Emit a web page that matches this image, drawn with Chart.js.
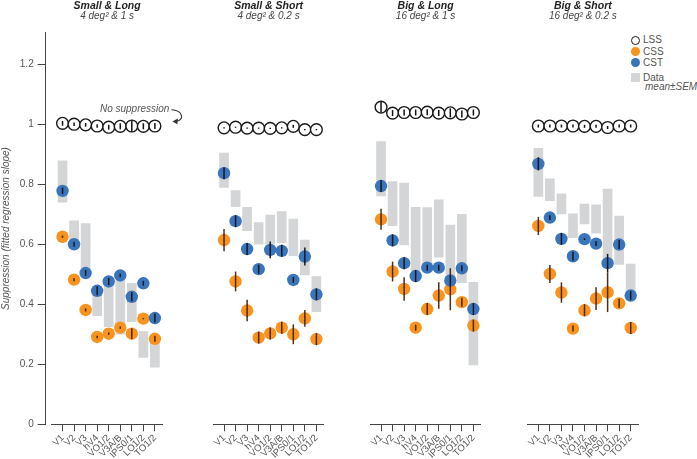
<!DOCTYPE html>
<html>
<head>
<meta charset="utf-8">
<script src="https://cdn.jsdelivr.net/npm/chart.js@4.4.0/dist/chart.umd.min.js"></script>
<style>
  body { margin: 0; background: #fff; width: 697px; height: 459px; position: relative; overflow: hidden;
         font-family: 'Liberation Sans', Arial, sans-serif; }
  canvas { position: absolute; top: 0; }
  .title { position: absolute; width: 160px; text-align: center; color: #222; font-size: 10.5px;
           font-weight: bold; font-style: italic; line-height: 12px; }
  .subtitle { position: absolute; width: 160px; text-align: center; color: #444; font-size: 10px;
              font-style: italic; line-height: 12px; }
  .lg { position: absolute; color: #555; font-size: 10px; line-height: 12px; white-space: nowrap; }
  .dot { position: absolute; width: 9px; height: 9px; border-radius: 50%; box-sizing: border-box; }
</style>
</head>
<body>
<div id="legend">
  <div class="dot" style="left:630.5px;top:35.5px;border:1.5px solid #1a1a1a;background:#fff"></div>
  <div class="lg" style="left:643px;top:34px">LSS</div>
  <div class="dot" style="left:630.5px;top:46.8px;background:#f7931e"></div>
  <div class="lg" style="left:643px;top:45.5px">CSS</div>
  <div class="dot" style="left:630.5px;top:58.2px;background:#3a74ba"></div>
  <div class="lg" style="left:643px;top:57px">CST</div>
  <div class="dot" style="left:631px;top:73px;width:9px;height:9px;border-radius:0;background:#d4d5d7"></div>
  <div class="lg" style="left:643px;top:71.5px">Data</div>
  <div class="lg" style="left:645px;top:81px;font-style:italic">mean±SEM</div>
</div>
<script>
const regions = ['V1', 'V2', 'V3', 'hV4', 'VO1/2', 'V3A/B', 'IPS0/1', 'LO1/2', 'TO1/2'];
const panelTitles = ['Small & Long', 'Small & Short', 'Big & Long', 'Big & Short'];
const panelSubtitles = ['4 deg² & 1 s', '4 deg² & 0.2 s', '16 deg² & 1 s', '16 deg² & 0.2 s'];
const yTicks = [0, 0.2, 0.4, 0.6, 0.8, 1, 1.2];

// grey bars: data mean ± SEM (low / high end), one row per panel
const dataLow = [
  [0.74, 0.60, 0.51, 0.362, 0.325, 0.30, 0.342, 0.223, 0.19],
  [0.789, 0.725, 0.645, 0.60, 0.60, 0.605, 0.562, 0.498, 0.375],
  [0.761, 0.662, 0.598, 0.51, 0.535, 0.557, 0.49, 0.472, 0.198],
  [0.759, 0.745, 0.701, 0.622, 0.668, 0.637, 0.55, 0.533, 0.44]
];
const dataHigh = [
  [0.878, 0.678, 0.669, 0.46, 0.47, 0.48, 0.47, 0.309, 0.29],
  [0.904, 0.779, 0.723, 0.672, 0.697, 0.709, 0.684, 0.614, 0.492],
  [0.942, 0.809, 0.804, 0.723, 0.722, 0.748, 0.664, 0.70, 0.473],
  [0.92, 0.818, 0.768, 0.701, 0.734, 0.731, 0.784, 0.694, 0.534]
];

// LSS model (open circles)
const lss = [
  [1.003, 1.0, 0.998, 0.994, 0.99, 0.993, 0.994, 0.993, 0.994],
  [0.988, 0.99, 0.987, 0.987, 0.986, 0.988, 0.993, 0.982, 0.982],
  [1.057, 1.037, 1.039, 1.039, 1.04, 1.037, 1.038, 1.034, 1.039],
  [0.994, 0.994, 0.994, 0.994, 0.993, 0.993, 0.989, 0.994, 0.994]
];
const lssErr = [
  [0.008, 0.006, 0.006, 0.006, 0.008, 0.01, 0.018, 0.01, 0.01],
  [0.002, 0.002, 0.002, 0.002, 0.002, 0.002, 0.005, 0.002, 0.002],
  [0.017, 0.01, 0.01, 0.01, 0.01, 0.01, 0.015, 0.012, 0.01],
  [0.005, 0.005, 0.005, 0.005, 0.005, 0.005, 0.005, 0.005, 0.005]
];

// CSS model (orange)
const css = [
  [0.625, 0.482, 0.381, 0.291, 0.302, 0.322, 0.302, 0.352, 0.285],
  [0.614, 0.476, 0.379, 0.289, 0.303, 0.322, 0.30, 0.353, 0.284],
  [0.683, 0.509, 0.451, 0.322, 0.384, 0.429, 0.45, 0.407, 0.329],
  [0.661, 0.501, 0.439, 0.319, 0.38, 0.419, 0.44, 0.403, 0.321]
];
const cssErr = [
  [0.004, 0.005, 0.005, 0.004, 0.004, 0.004, 0.018, 0.002, 0.01],
  [0.037, 0.033, 0.036, 0.02, 0.02, 0.02, 0.033, 0.028, 0.02],
  [0.035, 0.033, 0.039, 0.01, 0.02, 0.044, 0.07, 0.015, 0.02],
  [0.03, 0.03, 0.034, 0.01, 0.02, 0.038, 0.066, 0.015, 0.02]
];

// CST model (blue)
const cst = [
  [0.778, 0.60, 0.504, 0.445, 0.476, 0.496, 0.425, 0.47, 0.354],
  [0.837, 0.677, 0.584, 0.517, 0.581, 0.578, 0.481, 0.559, 0.433],
  [0.794, 0.613, 0.537, 0.494, 0.522, 0.522, 0.479, 0.52, 0.384],
  [0.868, 0.689, 0.618, 0.56, 0.617, 0.602, 0.537, 0.599, 0.429]
];
const cstErr = [
  [0.011, 0.008, 0.01, 0.015, 0.012, 0.006, 0.015, 0.008, 0.015],
  [0.02, 0.02, 0.02, 0.015, 0.028, 0.02, 0.01, 0.03, 0.02],
  [0.02, 0.02, 0.02, 0.02, 0.01, 0.01, 0.02, 0.01, 0.02],
  [0.022, 0.008, 0.02, 0.015, 0.003, 0.008, 0.031, 0.015, 0.015]
];

const font = "'Liberation Sans', Arial, sans-serif";
const blue = '#3a74ba';
const orange = '#f7931e';
const grey = '#d4d5d7';
const yMax = 1.305;
const padTop = 32.7;
const xAxisHeight = 34.7;
const xMin = -0.93, xMax = 8.65;
const plotWidth = 110.6;
const chartLeft = [51.8, 213.3, 370.3, 527.6];

// vertical error lines drawn right after each dataset
const errorBars = {
  id: 'errorBars',
  afterDatasetDraw(chart, args) {
    const ds = chart.data.datasets[args.index];
    if (!ds.errors) return;
    const { ctx, scales: { x, y } } = chart;
    ctx.save();
    ctx.strokeStyle = ds.errorColor;
    ctx.lineWidth = 1.5;
    ds.data.forEach((p, i) => {
      const px = x.getPixelForValue(p.x);
      ctx.beginPath();
      ctx.moveTo(px, y.getPixelForValue(p.y - ds.errors[i]));
      ctx.lineTo(px, y.getPixelForValue(p.y + ds.errors[i]));
      ctx.stroke();
    });
    ctx.restore();
  }
};

const noSuppression = {
  id: 'noSuppression',
  afterDraw(chart) {
    const { ctx, scales: { x, y } } = chart;
    const tx = x.getPixelForValue(8) + 14.5;
    const ty = y.getPixelForValue(1.05);
    ctx.save();
    ctx.font = 'italic 10px ' + font;
    ctx.fillStyle = '#555';
    ctx.textAlign = 'right';
    ctx.textBaseline = 'middle';
    ctx.fillText('No suppression', tx, ty);
    ctx.strokeStyle = '#333';
    ctx.fillStyle = '#333';
    ctx.lineWidth = 1.1;
    ctx.beginPath();
    ctx.moveTo(tx + 2, ty + 0.5);
    ctx.bezierCurveTo(tx + 14, ty + 1, tx + 15, ty + 11, tx + 7, ty + 12);
    ctx.stroke();
    ctx.beginPath();
    ctx.moveTo(tx + 3, ty + 12.4);
    ctx.lineTo(tx + 8.5, ty + 9.3);
    ctx.lineTo(tx + 8, ty + 15);
    ctx.closePath();
    ctx.fill();
    ctx.restore();
  }
};

function points(values) {
  return values.map((v, i) => ({ x: i, y: v }));
}

function makeYAxis() {
  const canvas = document.createElement('canvas');
  canvas.width = 50;
  canvas.height = 459;
  canvas.style.left = '0px';
  document.body.appendChild(canvas);
  new Chart(canvas, {
    type: 'scatter',
    data: { datasets: [] },
    options: {
      responsive: false,
      animation: false,
      events: [],
      layout: { padding: { top: padTop, bottom: xAxisHeight, left: 0, right: 0 } },
      plugins: { legend: { display: false }, tooltip: { enabled: false } },
      scales: {
        x: { display: false },
        y: {
          min: 0,
          max: yMax,
          afterFit: s => { s.width = 45.7; },
          afterBuildTicks: s => { s.ticks = yTicks.map(v => ({ value: v })); },
          ticks: { color: '#555', padding: 4, font: { size: 10, family: font }, callback: v => String(v) },
          grid: { drawOnChartArea: false, tickLength: 8, color: '#444' },
          border: { color: '#444' },
          title: {
            display: true,
            text: 'Suppression (fitted regression slope)',
            color: '#555',
            padding: 0,
            font: { size: 10, style: 'italic', family: font }
          }
        }
      }
    }
  });
}

function makePanel(p) {
  const padL = 26, padR = 32;
  const left = Math.floor(chartLeft[p]) - padL;
  const extraL = chartLeft[p] - left;
  const canvas = document.createElement('canvas');
  canvas.width = Math.round(extraL + plotWidth + padR);
  canvas.height = 459;
  canvas.style.left = left + 'px';
  document.body.appendChild(canvas);

  const center = chartLeft[p] + plotWidth / 2;
  const t = document.createElement('div');
  t.className = 'title';
  t.textContent = panelTitles[p];
  t.style.left = (center - 80) + 'px';
  t.style.top = '-1.5px';
  document.body.appendChild(t);
  const st = document.createElement('div');
  st.className = 'subtitle';
  st.textContent = panelSubtitles[p];
  st.style.left = (center - 80) + 'px';
  st.style.top = '10px';
  document.body.appendChild(st);

  new Chart(canvas, {
    type: 'bar',
    data: {
      datasets: [
        {
          type: 'scatter', label: 'LSS', order: 1,
          data: points(lss[p]), errors: lssErr[p], errorColor: '#111',
          pointRadius: 5.9, pointBackgroundColor: '#fff', pointBorderColor: '#1a1a1a', pointBorderWidth: 1.4
        },
        {
          type: 'scatter', label: 'CST', order: 2,
          data: points(cst[p]), errors: cstErr[p], errorColor: '#15181f',
          pointRadius: 6.2, pointBackgroundColor: blue, pointBorderWidth: 0
        },
        {
          type: 'scatter', label: 'CSS', order: 3,
          data: points(css[p]), errors: cssErr[p], errorColor: 'rgba(55,28,0,0.9)',
          pointRadius: 6.2, pointBackgroundColor: orange, pointBorderWidth: 0
        },
        {
          type: 'bar', label: 'Data', order: 4,
          data: dataLow[p].map((v, i) => ({ x: i, y: [v, dataHigh[p][i]] })),
          backgroundColor: grey, barThickness: 9, grouped: false
        }
      ]
    },
    options: {
      responsive: false,
      animation: false,
      events: [],
      layout: { padding: { left: extraL, right: canvas.width - extraL - plotWidth, top: padTop, bottom: 0 } },
      plugins: { legend: { display: false }, tooltip: { enabled: false } },
      scales: {
        x: {
          type: 'linear',
          min: xMin,
          max: xMax,
          offset: false,
          afterBuildTicks: s => { s.ticks = regions.map((r, i) => ({ value: i })); },
          afterFit: s => { s.height = xAxisHeight; },
          ticks: {
            autoSkip: false, minRotation: 45, maxRotation: 45, padding: 1,
            color: '#555', font: { size: 9.5, family: font },
            callback: v => regions[v]
          },
          grid: { drawOnChartArea: false, offset: false, tickLength: 7, color: '#444' },
          border: { color: '#444' }
        },
        y: { display: false, min: 0, max: yMax }
      }
    },
    plugins: p === 0 ? [errorBars, noSuppression] : [errorBars]
  });
}

makeYAxis();
[0, 1, 2, 3].forEach(makePanel);
</script>
</body>
</html>
